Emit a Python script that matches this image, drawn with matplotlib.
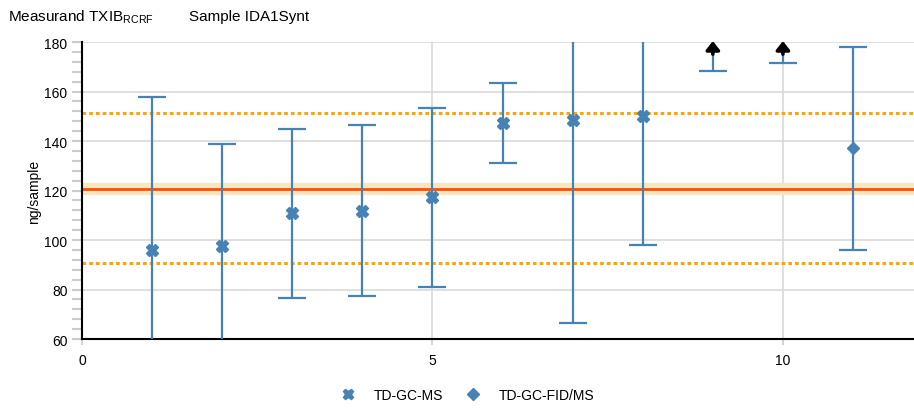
import matplotlib
matplotlib.use("Agg")
import matplotlib.pyplot as plt
from matplotlib.lines import Line2D

plt.rcParams['font.family'] = ['Liberation Sans', 'DejaVu Sans']

# Data
ms_x = [1, 2, 3, 4, 5, 6, 7, 8]
ms_val = [95.8, 97.4, 110.8, 111.8, 117.2, 147.3, 148.4, 150.0]
ms_low = [40.0, 40.0, 76.6, 77.2, 81.0, 131.2, 66.6, 97.8]
ms_high = [157.8, 139.0, 145.0, 146.5, 153.5, 163.3, 230.0, 230.0]

off_x = [9, 10]           # values above the plotted range
off_low = [168.2, 171.6]
off_val = [200.0, 200.0]

fid_x = [11]
fid_val = [137.2]
fid_low = [95.8]
fid_high = [177.8]

ref_value = 120.8
ref_band = (118.4, 123.2)
limits = [151.5, 90.9]

blue = '#4682b4'

fig = plt.figure(figsize=(9.14, 4.10), dpi=100)
ax = fig.add_axes([0.0897, 0.1707, 0.9103, 0.7243])
ax.set_xlim(0, 11.87)
ax.set_ylim(60, 180)

ax.set_yticks(range(60, 181, 20))
ax.set_yticks(range(60, 181, 4), minor=True)
ax.set_xticks([0, 5, 10])
ax.grid(True, which='major', color='#d9d9d9', lw=1.2, zorder=0)
ax.set_axisbelow(True)
for s in ['top', 'right']:
    ax.spines[s].set_visible(False)
ax.spines['left'].set_linewidth(1.5)
ax.spines['bottom'].set_linewidth(1.5)
ax.tick_params(axis='y', which='major', length=7, width=1.5, color='#cccccc', labelsize=10)
ax.tick_params(axis='y', which='minor', length=7, width=1.5, color='#cccccc')
ax.tick_params(axis='x', which='major', length=4, width=1.2, color='#cccccc', labelsize=10, pad=6)
ax.set_ylabel('ng/sample', fontsize=10)
ax.yaxis.set_label_coords(-0.049, 0.5)

# reference band and lines
ax.axhspan(ref_band[0], ref_band[1], color='#f7e6c4', zorder=1)
ax.axhline(ref_value, color='#ff4d00', lw=2, zorder=2)
for l in limits:
    ax.axhline(l, color='#ffa500', lw=2.2, ls=(0, (1.2, 1.0)), zorder=2)

ekw = dict(ecolor=blue, elinewidth=1.6, capsize=10, capthick=1.6, zorder=3)

def eb(x, v, lo, hi, **kw):
    yerr = [[vi - l for vi, l in zip(v, lo)], [h - vi for vi, h in zip(v, hi)]]
    ax.errorbar(x, v, yerr=yerr, fmt='none', **ekw)
    ax.plot(x, v, ls='none', color=blue, zorder=4, **kw)

eb(ms_x, ms_val, ms_low, ms_high, marker='X', markersize=8, markeredgecolor=blue)
eb(fid_x, fid_val, fid_low, [fid_high[0]], marker='D', markersize=6.5)

for x, lo, v in zip(off_x, off_low, off_val):
    ax.errorbar([x], [v], yerr=[[v - lo], [0]], fmt='none', **ekw)
    ax.annotate('', xy=(x, 181.5), xytext=(x, 174.0), annotation_clip=False,
                arrowprops=dict(arrowstyle='-|>,head_width=0.4,head_length=0.5',
                                color='black', lw=2.6), zorder=5)

fig.text(0.009, 0.958, 'Measurand TXIB$_{\\mathregular{RCRF}}$', fontsize=11, va='center')
fig.text(0.207, 0.958, 'Sample IDA1Synt', fontsize=11, va='center')

handles = [Line2D([], [], ls='none', marker='X', color=blue, markersize=7.5),
           Line2D([], [], ls='none', marker='D', color=blue, markersize=6)]
fig.legend(handles, ['TD-GC-MS', 'TD-GC-FID/MS'], loc='center', bbox_to_anchor=(0.508, 0.035),
           ncol=2, frameon=False, fontsize=10, handletextpad=0.9, columnspacing=1.1)

fig.savefig('out.png', dpi=100)
